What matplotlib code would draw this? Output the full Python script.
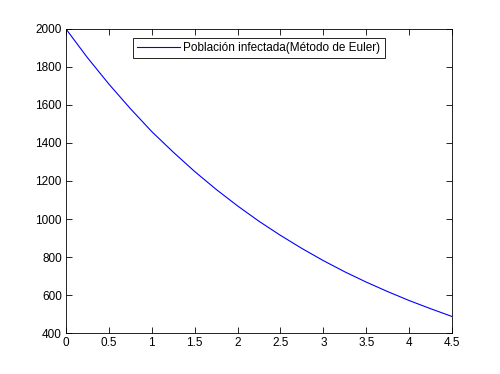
import matplotlib
matplotlib.use("Agg")
import matplotlib.pyplot as plt

# valores (metodo de Euler)
t = [0, 0.25, 0.5, 0.75, 1.0, 1.25, 1.5, 1.75, 2.0, 2.25,
     2.5, 2.75, 3.0, 3.25, 3.5, 3.75, 4.0, 4.25, 4.5]
poblacion = [2000, 1849, 1710, 1581, 1460, 1352, 1250, 1156, 1069, 988,
             914, 845, 781, 722, 668, 618, 571, 528, 487]

plt.rcParams['font.family'] = ['Liberation Sans', 'DejaVu Sans']
plt.rcParams['font.size'] = 8.5

fig = plt.figure(figsize=(5, 3.74), dpi=100)
ax = fig.add_axes([0.132, 0.1096, 0.772, 0.8129])
ax.plot(t, poblacion, color="#0000ff", linewidth=0.8,
        label="Población infectada(Método de Euler)")
ax.set_xlim(0, 4.5)
ax.set_ylim(400, 2000)
ax.set_xticks([0, 0.5, 1, 1.5, 2, 2.5, 3, 3.5, 4, 4.5])
ax.set_xticklabels(["0", "0.5", "1", "1.5", "2", "2.5", "3", "3.5", "4", "4.5"])
ax.set_yticks(range(400, 2001, 200))
ax.tick_params(direction="in", top=True, right=True, length=4, width=0.6, pad=3)
for s in ax.spines.values():
    s.set_linewidth(0.6)
leg = ax.legend(loc="upper center", bbox_to_anchor=(0.5, 0.99), fancybox=False,
                framealpha=1, edgecolor="black", handlelength=3.6,
                borderpad=0.35, handletextpad=0.3, fontsize=8.5)
leg.get_frame().set_linewidth(0.6)
fig.savefig("out.png", dpi=100)
